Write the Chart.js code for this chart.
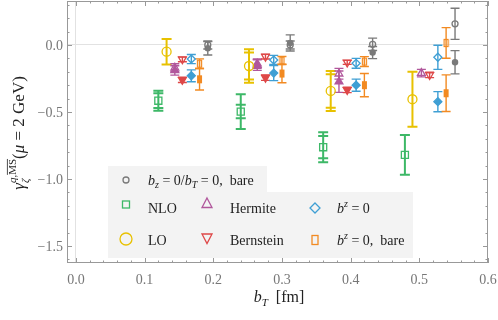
<!DOCTYPE html>
<html>
<head>
<meta charset="utf-8">
<script src="https://cdn.jsdelivr.net/npm/chart.js@4.4.1/dist/chart.umd.min.js"></script>
<style>
  html, body { margin: 0; padding: 0; background: #fff; }
</style>
</head>
<body>
<canvas id="chart" width="498" height="320"></canvas>
<script>
// tick labels
const xTicks = [0, 0.1, 0.2, 0.3, 0.4, 0.5, 0.6];
const yTicks = [-1.5, -1.0, -0.5, 0.0];

// NLO (green squares), two error bars each
const nloX = [0.12, 0.24, 0.36, 0.479];
const nloY = [-0.416, -0.497, -0.763, -0.82];
const nloErr = [0.075, 0.13, 0.112, 0.149];
const nloErr2 = [0.055, 0.05, 0.083, 0];

// LO (yellow circles)
const loX = [0.132, 0.252, 0.371, 0.49];
const loY = [-0.05, -0.157, -0.343, -0.405];
const loErr = [0.095, 0.125, 0.149, 0.205];
const loErr2 = [0, 0.1, 0.125, 0];

// Hermite (purple triangles): open / filled
const hermX = [0.144, 0.264, 0.383, 0.503];
const hermY = [-0.17, -0.14, -0.215, -0.21];
const hermErr = [0.03, 0.035, 0.04, 0.028];
const hermFX = [0.144, 0.264, 0.383];
const hermFY = [-0.19, -0.15, -0.274];
const hermFErr = [0.035, 0.04, 0.08];

// Bernstein (red down triangles): open / filled
const bernX = [0.155, 0.276, 0.395, 0.515];
const bernY = [-0.107, -0.087, -0.13, -0.224];
const bernErr = [0.018, 0.018, 0.015, 0.02];
const bernFX = [0.155, 0.276, 0.395];
const bernFY = [-0.26, -0.244, -0.336];
const bernFErr = [0.02, 0.02, 0.02];

// b^z = 0 (blue diamonds): open / filled
const bz0X = [0.168, 0.288, 0.408, 0.527];
const bz0Y = [-0.105, -0.112, -0.137, -0.092];
const bz0Err = [0.034, 0.034, 0.037, 0.09];
const bz0FY = [-0.23, -0.21, -0.3, -0.423];
const bz0FErr = [0.044, 0.056, 0.045, 0.075];

// b^z = 0, bare (orange rectangles): open / filled
const bareX = [0.18, 0.3, 0.42, 0.539];
const bareY = [-0.14, -0.116, -0.124, 0.015];
const bareErr = [0.036, 0.03, 0.037, 0.114];
const bareFY = [-0.256, -0.213, -0.3, -0.36];
const bareFErr = [0.08, 0.069, 0.087, 0.137];

// b_z = 0 / b_T = 0, bare (gray circles): open / filled
const grayX = [0.192, 0.312, 0.432, 0.552];
const grayY = [0.0, 0.0, 0.005, 0.158];
const grayErr = [0.03, 0.03, 0.046, 0.116];
const grayFY = [-0.025, 0.015, -0.057, -0.129];
const grayFErr = [0.05, 0.06, 0.045, 0.087];

const cGreen = "#3db867";
const cYellow = "#e8c100";
const cPurple = "#b1579c";
const cRed = "#de4848";
const cBlue = "#3f9fd4";
const cOrange = "#f28a22";
const cGray = "#7a7a7a";
const SERIF = '"Liberation Serif", "DejaVu Serif", serif';

// 주황 직사각형 마커
function rectMarker(color, w, h, fill) {
  const c = document.createElement("canvas");
  c.width = w + 2;
  c.height = h + 2;
  const g = c.getContext("2d");
  g.strokeStyle = color;
  g.fillStyle = color;
  g.lineWidth = 1.3;
  if (fill) g.fillRect(1, 1, w, h);
  else g.strokeRect(1.5, 1.5, w - 1, h - 1);
  return c;
}

function makeSet(label, xs, ys, errA, errB, color, st) {
  return {
    label: label,
    data: xs.map((x, i) => ({ x: x, y: ys[i] })),
    errA: errA,
    errB: errB,
    errColor: color,
    errWidth: st.errWidth || 1.4,
    capHalf: st.capHalf || 4.5,
    pointStyle: st.pointStyle,
    pointRotation: st.rotation || 0,
    pointRadius: st.radius,
    pointBorderWidth: st.borderWidth || 1.3,
    pointBorderColor: color,
    pointBackgroundColor: st.fill ? color : "rgba(255,255,255,0)",
    showLine: false,
  };
}

const datasets = [
  makeSet("NLO", nloX, nloY, nloErr, nloErr2, cGreen, { pointStyle: "rect", radius: 5, errWidth: 2, capHalf: 5 }),
  makeSet("LO", loX, loY, loErr, loErr2, cYellow, { pointStyle: "circle", radius: 4.5, errWidth: 2, capHalf: 5 }),
  makeSet("Hermite", hermX, hermY, hermErr, null, cPurple, { pointStyle: "triangle", radius: 4.5 }),
  makeSet("Hermite filled", hermFX, hermFY, hermFErr, null, cPurple, { pointStyle: "triangle", radius: 4.5, fill: true }),
  makeSet("Bernstein", bernX, bernY, bernErr, null, cRed, { pointStyle: "triangle", rotation: 180, radius: 4.5 }),
  makeSet("Bernstein filled", bernFX, bernFY, bernFErr, null, cRed, { pointStyle: "triangle", rotation: 180, radius: 4.5, fill: true }),
  makeSet("b^z = 0", bz0X, bz0Y, bz0Err, null, cBlue, { pointStyle: "rectRot", radius: 4 }),
  makeSet("b^z = 0 filled", bz0X, bz0FY, bz0FErr, null, cBlue, { pointStyle: "rectRot", radius: 4, fill: true }),
  makeSet("b^z = 0, bare", bareX, bareY, bareErr, null, cOrange, { pointStyle: rectMarker(cOrange, 5, 8, false) }),
  makeSet("b^z = 0, bare filled", bareX, bareFY, bareFErr, null, cOrange, { pointStyle: rectMarker(cOrange, 5, 8, true) }),
  makeSet("b_z = 0/b_T = 0, bare", grayX, grayY, grayErr, null, cGray, { pointStyle: "circle", radius: 3 }),
  makeSet("gray filled", grayX, grayFY, grayFErr, null, cGray, { pointStyle: "circle", radius: 2.6, fill: true }),
];

// 서식 있는 텍스트 그리기
function drawRich(ctx, pieces, x, y, align) {
  let total = 0;
  pieces.forEach((p) => {
    ctx.font = (p.it ? "italic " : "") + p.s + "px " + SERIF;
    p.w = ctx.measureText(p.t).width;
    if (p.adv !== false) total += p.w;
  });
  let cx = align === "center" ? x - total / 2 : x;
  pieces.forEach((p) => {
    ctx.font = (p.it ? "italic " : "") + p.s + "px " + SERIF;
    ctx.fillText(p.t, cx, y + (p.dy || 0));
    if (p.over) {
      ctx.beginPath();
      ctx.lineWidth = 0.8;
      ctx.moveTo(cx, y + p.dy - p.s * 0.78);
      ctx.lineTo(cx + p.w, y + p.dy - p.s * 0.78);
      ctx.strokeStyle = ctx.fillStyle;
      ctx.stroke();
    }
    if (p.adv !== false) cx += p.w;
  });
}

function fmt(v) {
  return (v < 0 ? "\u2212" : "") + Math.abs(v).toFixed(1);
}

// 프레임 + 안쪽 눈금 + y 눈금 라벨
const framePlugin = {
  id: "frame",
  beforeDatasetsDraw(chart) {
    const { ctx, chartArea: a, scales } = chart;
    ctx.save();
    ctx.strokeStyle = "#999";
    ctx.lineWidth = 1;
    ctx.strokeRect(a.left + 0.5, a.top + 0.5, a.right - a.left - 1, a.bottom - a.top - 1);
    ctx.beginPath();
    for (let i = 0; i <= 30; i++) {
      const v = i * 0.02;
      const px = Math.round(scales.x.getPixelForValue(v)) + 0.5;
      const len = i % 5 === 0 ? 5 : 2.5;
      ctx.moveTo(px, a.bottom);
      ctx.lineTo(px, a.bottom - len);
      ctx.moveTo(px, a.top);
      ctx.lineTo(px, a.top + len);
    }
    for (let i = -16; i <= 3; i++) {
      const v = i * 0.1;
      const py = Math.round(scales.y.getPixelForValue(v)) + 0.5;
      const len = i % 5 === 0 ? 5 : 2.5;
      ctx.moveTo(a.left, py);
      ctx.lineTo(a.left + len, py);
      ctx.moveTo(a.right, py);
      ctx.lineTo(a.right - len, py);
    }
    ctx.stroke();

    ctx.fillStyle = "#777";
    ctx.font = "14px " + SERIF;
    ctx.textAlign = "right";
    ctx.textBaseline = "middle";
    yTicks.forEach((v) => {
      ctx.fillText(fmt(v), a.left - 4, scales.y.getPixelForValue(v) + 1);
    });
    ctx.restore();
  },
};

// 에러바
const errorBars = {
  id: "errorBars",
  beforeDatasetsDraw(chart) {
    const { ctx, scales } = chart;
    chart.data.datasets.forEach((ds) => {
      ctx.save();
      ctx.strokeStyle = ds.errColor;
      ctx.lineWidth = ds.errWidth;
      ds.data.forEach((p, i) => {
        const px = scales.x.getPixelForValue(p.x);
        [ds.errA[i], ds.errB ? ds.errB[i] : 0].forEach((e, k) => {
          if (!e) return;
          const y1 = scales.y.getPixelForValue(p.y + e);
          const y2 = scales.y.getPixelForValue(p.y - e);
          ctx.beginPath();
          if (k === 0) {
            ctx.moveTo(px, y1);
            ctx.lineTo(px, y2);
          }
          ctx.moveTo(px - ds.capHalf, y1);
          ctx.lineTo(px + ds.capHalf, y1);
          ctx.moveTo(px - ds.capHalf, y2);
          ctx.lineTo(px + ds.capHalf, y2);
          ctx.stroke();
        });
      });
      ctx.restore();
    });
  },
};

// 범례 (플롯 안쪽)
const legendPlugin = {
  id: "innerLegend",
  afterDatasetsDraw(chart) {
    const ctx = chart.ctx;
    ctx.save();
    ctx.fillStyle = "#f3f3f3";
    ctx.beginPath();
    ctx.moveTo(108, 166);
    ctx.lineTo(267, 166);
    ctx.lineTo(267, 192);
    ctx.lineTo(413, 192);
    ctx.lineTo(413, 258);
    ctx.lineTo(108, 258);
    ctx.closePath();
    ctx.fill();

    ctx.lineWidth = 1.3;
    // gray circle
    ctx.strokeStyle = cGray;
    ctx.beginPath();
    ctx.arc(126, 180, 3, 0, Math.PI * 2);
    ctx.stroke();
    // green square
    ctx.strokeStyle = cGreen;
    ctx.strokeRect(122.5, 201, 7, 7);
    // yellow circle
    ctx.strokeStyle = cYellow;
    ctx.beginPath();
    ctx.arc(126, 239, 6, 0, Math.PI * 2);
    ctx.stroke();
    // purple triangle
    ctx.strokeStyle = cPurple;
    ctx.beginPath();
    ctx.moveTo(207, 198);
    ctx.lineTo(212, 207.5);
    ctx.lineTo(202, 207.5);
    ctx.closePath();
    ctx.stroke();
    // red down triangle
    ctx.strokeStyle = cRed;
    ctx.beginPath();
    ctx.moveTo(202, 234);
    ctx.lineTo(212, 234);
    ctx.lineTo(207, 243.5);
    ctx.closePath();
    ctx.stroke();
    // blue diamond
    ctx.strokeStyle = cBlue;
    ctx.beginPath();
    ctx.moveTo(315, 203);
    ctx.lineTo(320, 208);
    ctx.lineTo(315, 213);
    ctx.lineTo(310, 208);
    ctx.closePath();
    ctx.stroke();
    // orange rect
    ctx.strokeStyle = cOrange;
    ctx.strokeRect(312, 235.5, 6, 9);

    ctx.fillStyle = "#222";
    ctx.textBaseline = "alphabetic";
    drawRich(ctx, [
      { t: "b", it: true, s: 14 },
      { t: "z", it: true, s: 10, dy: 3 },
      { t: " = 0/", s: 14 },
      { t: "b", it: true, s: 14 },
      { t: "T", it: true, s: 10, dy: 3 },
      { t: " = 0,  bare", s: 14 },
    ], 148, 185, "left");
    drawRich(ctx, [{ t: "NLO", s: 14 }], 148, 213, "left");
    drawRich(ctx, [{ t: "LO", s: 14 }], 148, 245, "left");
    drawRich(ctx, [{ t: "Hermite", s: 14 }], 230, 213, "left");
    drawRich(ctx, [{ t: "Bernstein", s: 14 }], 230, 245, "left");
    drawRich(ctx, [
      { t: "b", it: true, s: 14 },
      { t: "z", it: true, s: 10, dy: -6 },
      { t: " = 0", s: 14 },
    ], 337, 213, "left");
    drawRich(ctx, [
      { t: "b", it: true, s: 14 },
      { t: "z", it: true, s: 10, dy: -6 },
      { t: " = 0,  bare", s: 14 },
    ], 337, 245, "left");
    ctx.restore();
  },
};

// 축 제목
const titlePlugin = {
  id: "axisTitles",
  afterDraw(chart) {
    const ctx = chart.ctx;
    ctx.save();
    ctx.fillStyle = "#222";
    ctx.textBaseline = "alphabetic";
    drawRich(ctx, [
      { t: "b", it: true, s: 16 },
      { t: "T", it: true, s: 11, dy: 4 },
      { t: "  [fm]", s: 16 },
    ], 279, 302, "center");

    ctx.translate(24, 133);
    ctx.rotate(-Math.PI / 2);
    drawRich(ctx, [
      { t: "γ", it: true, s: 17 },
      { t: "ζ", it: true, s: 11, dy: 5, adv: false },
      { t: "q", it: true, s: 11, dy: -8 },
      { t: ",", s: 11, dy: -8 },
      { t: "MS", s: 11, dy: -8, over: true },
      { t: "(", s: 17 },
      { t: "μ", it: true, s: 17 },
      { t: " = 2 GeV)", s: 17 },
    ], 0, 0, "center");
    ctx.restore();
  },
};

new Chart(document.getElementById("chart").getContext("2d"), {
  type: "scatter",
  data: { datasets: datasets },
  options: {
    responsive: false,
    animation: false,
    layout: { autoPadding: false, padding: { top: 1, right: 10, left: 0, bottom: 0 } },
    plugins: {
      legend: { display: false },
      tooltip: { enabled: false },
    },
    scales: {
      x: {
        type: "linear",
        min: -0.013,
        max: 0.6,
        afterBuildTicks: (s) => {
          s.ticks = xTicks.map((v) => ({ value: v }));
        },
        afterFit: (s) => {
          s.height = 57;
          s.paddingLeft = 0;
          s.paddingRight = 0;
        },
        grid: {
          drawTicks: false,
          color: (c) => (c.tick && c.tick.value === 0 ? "#e2e2e2" : "rgba(0,0,0,0)"),
        },
        border: { display: false },
        ticks: {
          padding: 9,
          color: "#777",
          maxRotation: 0,
          font: { family: SERIF, size: 14 },
          callback: (v) => fmt(v),
        },
      },
      y: {
        type: "linear",
        min: -1.627,
        max: 0.328,
        afterBuildTicks: (s) => {
          s.ticks = yTicks.map((v) => ({ value: v }));
        },
        afterFit: (s) => {
          s.width = 67;
          s.paddingTop = 0;
          s.paddingBottom = 0;
        },
        grid: {
          drawTicks: false,
          color: (c) => (c.tick && c.tick.value === 0 ? "#e2e2e2" : "rgba(0,0,0,0)"),
        },
        border: { display: false },
        ticks: { display: false },
      },
    },
  },
  plugins: [framePlugin, errorBars, legendPlugin, titlePlugin],
});
</script>
</body>
</html>
